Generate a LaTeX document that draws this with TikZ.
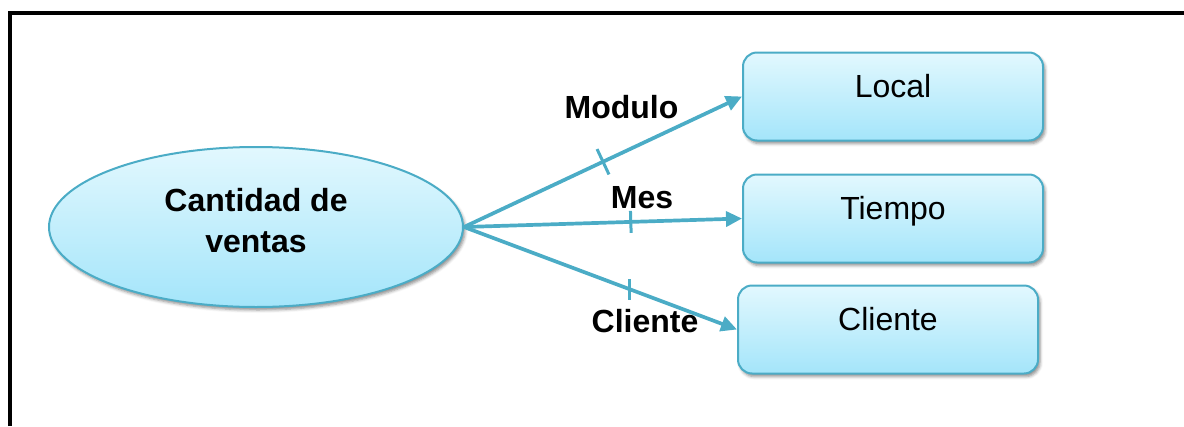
\documentclass[tikz,border=0pt]{standalone}
\usepackage{fontspec}
\setmainfont{Liberation Sans}
\usetikzlibrary{shapes.geometric,arrows.meta,shadows.blur}
\definecolor{tealline}{RGB}{75,172,198}
\definecolor{filltop}{RGB}{226,248,254}
\definecolor{fillbot}{RGB}{164,229,250}
\begin{document}
\begin{tikzpicture}[x=1pt,y=-1pt,
  shape3d/.style={draw=tealline, line width=2pt, top color=filltop, bottom color=fillbot,
    blur shadow={shadow xshift=2pt, shadow yshift=-3pt, shadow blur radius=3pt, shadow opacity=45}},
  boxnode/.style={shape3d, rectangle, rounded corners=14pt, minimum width=300pt, minimum height=88pt,
    inner sep=0pt, text height=45pt, text depth=43pt, font=\fontsize{32}{38}\selectfont},
  boldtext/.style={font=\fontsize{32}{41}\selectfont\bfseries, inner sep=0pt},
  conn/.style={draw=tealline, line width=3.7pt, -{Triangle[length=16pt,width=15pt]}},
  tickmark/.style={rectangle, fill=tealline, inner sep=0pt, minimum width=3pt},
]
\useasboundingbox (0,0) rectangle (1184,426);
% frame
\coordinate (fb) at (10,426);
\coordinate (fc) at (10,12.5);
\coordinate (fr) at (1184,12.5);
\draw[line width=4pt, line join=miter] (fb) -- (fc) -- (fr);
% nodes
\node[shape3d, ellipse, minimum width=414pt, minimum height=160pt, inner sep=0pt] (E) at (256,227) {};
\node[boldtext, align=center] (Et) at (256,221) {Cantidad de\\ventas};
\node[boxnode] (L) at (893,96.5) {Local};
\node[boxnode] (T) at (893,218.5) {Tiempo};
\node[boxnode] (C) at (888,329.5) {Cliente};
% connectors
\draw[conn] (E.east) -- (L.west) node[tickmark, pos=0.5, sloped, minimum height=28pt] (tk1) {};
\draw[conn] (E.east) -- (T.west) node[tickmark, pos=0.6, sloped, minimum height=22pt] (tk2) {};
\draw[conn] (E.east) -- (C.west) node[tickmark, pos=0.607, minimum height=21pt] (tk3) {};
% labels
\node[boldtext, anchor=base] (lm) at (621.5,118) {Modulo};
\node[boldtext, anchor=base] (ls) at (642,208) {Mes};
\node[boldtext, anchor=base] (lc) at (645,332) {Cliente};
\end{tikzpicture}
\end{document}
